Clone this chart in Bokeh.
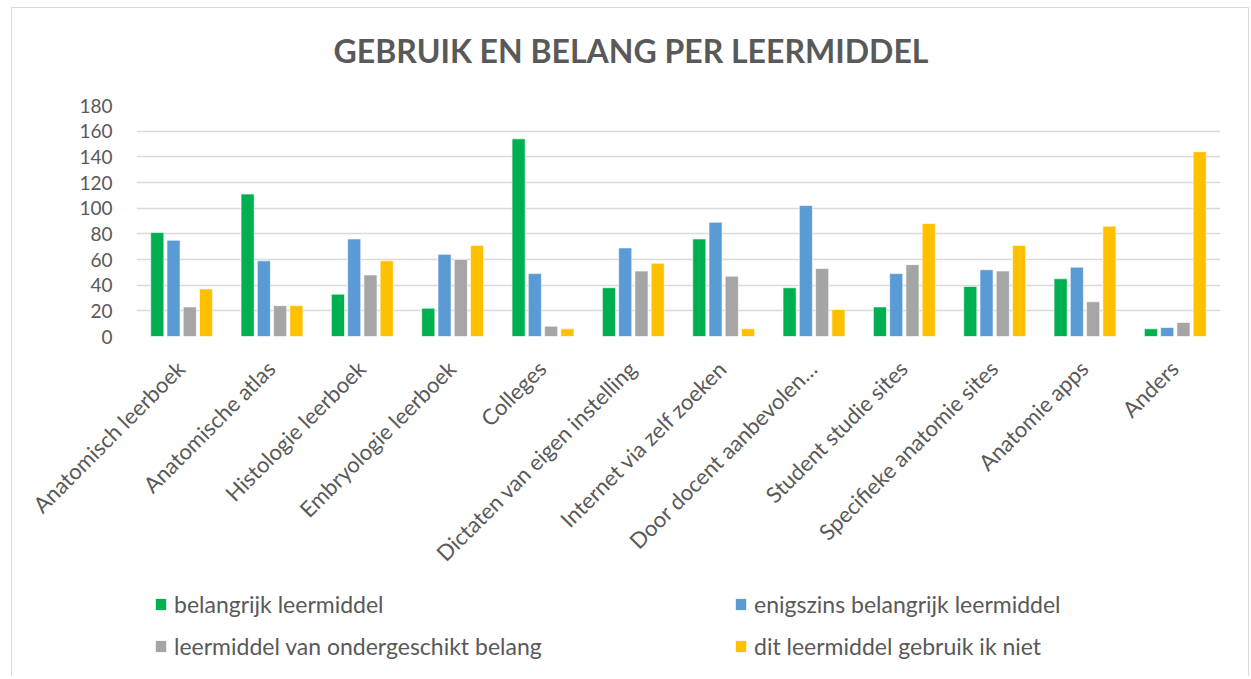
from bokeh.plotting import figure
from bokeh.models import Range1d, FixedTicker, Legend, LegendItem
from bokeh.layouts import column
from bokeh.core.properties import value
from bokeh.embed import file_html
from bokeh.resources import INLINE
import math

categories = ["Anatomisch leerboek", "Anatomische atlas", "Histologie leerboek",
              "Embryologie leerboek", "Colleges", "Dictaten van eigen instelling",
              "Internet via zelf zoeken", "Door docent aanbevolen\u2026",
              "Student studie sites", "Specifieke anatomie sites", "Anatomie apps", "Anders"]
series_names = ["belangrijk leermiddel", "enigszins belangrijk leermiddel",
                "leermiddel van ondergeschikt belang", "dit leermiddel gebruik ik niet"]
belangrijk = [81, 111, 33, 22, 154, 38, 76, 38, 23, 39, 45, 6]
enigszins = [75, 59, 76, 64, 49, 69, 89, 102, 49, 52, 54, 7]
ondergeschikt = [23, 24, 48, 60, 8, 51, 47, 53, 56, 51, 27, 11]
niet_gebruikt = [37, 24, 59, 71, 6, 57, 6, 21, 88, 71, 86, 144]
y_ticks = [0, 20, 40, 60, 80, 100, 120, 140, 160, 180]
title_text = "GEBRUIK EN BELANG PER LEERMIDDEL"

colors = ["#00B050", "#5B9BD5", "#A5A5A5", "#FFC000"]
FONT = "Lato"
TXT = "#595959"
W = 1236

# horizontal layout (page pixels): plot frame spans 136..1220, chart centre at ~630
FRAME_L, FRAME_R, CHART_MID = 136, 1220, 630.5


def bare(fig):
    fig.axis.visible = False
    fig.grid.visible = False
    fig.outline_line_color = None
    return fig


# ---- title strip ----
H0 = 85
p0 = bare(figure(width=W, height=H0, output_backend="svg", toolbar_location=None,
                 x_range=Range1d(0, 1), y_range=Range1d(0, 1),
                 min_border_left=0, min_border_right=0, min_border_top=0, min_border_bottom=0))
p0.text(x=[(CHART_MID - FRAME_L) / (FRAME_R - FRAME_L)], y=[43 / H0], text=[title_text],
        text_align="center", text_baseline="middle",
        text_font=value(FONT), text_font_style="bold", text_font_size="32px", text_color=TXT)

# ---- main chart ----
BT, BB, BL, BR = 12, 250, 124, 28
H1 = BT + 231 + BB
p = figure(width=W, height=H1, output_backend="svg", toolbar_location=None,
           x_range=Range1d(0, len(categories)), y_range=Range1d(0, 180),
           min_border_left=BL, min_border_right=BR, min_border_top=BT, min_border_bottom=BB)
p.outline_line_color = None

centers = [i + 0.5 for i in range(len(categories))]
offsets = [-0.27, -0.09, 0.09, 0.27]
all_series = [belangrijk, enigszins, ondergeschikt, niet_gebruikt]
for vals, off, col in zip(all_series, offsets, colors):
    p.vbar(x=[c + off for c in centers], top=vals, width=0.145, bottom=0,
           fill_color=col, line_color="white", line_alpha=0.6, line_width=1)

label_pos = [c - 0.011 for c in centers]
p.xaxis.ticker = FixedTicker(ticks=label_pos)
p.xaxis.major_label_overrides = {c: lab for c, lab in zip(label_pos, categories)}
p.xaxis.major_label_orientation = math.pi / 4
p.xaxis.axis_line_color = None
p.xaxis.major_tick_line_color = None
p.xaxis.minor_tick_line_color = None
p.xaxis.major_label_standoff = 22
p.xaxis.major_label_text_font = FONT
p.xaxis.major_label_text_font_size = "22px"
p.xaxis.major_label_text_color = TXT

p.yaxis.ticker = FixedTicker(ticks=y_ticks)
p.yaxis.axis_line_color = None
p.yaxis.major_tick_line_color = None
p.yaxis.minor_tick_line_color = None
p.yaxis.major_label_standoff = 18
p.yaxis.major_label_text_font = FONT
p.yaxis.major_label_text_font_size = "19px"
p.yaxis.major_label_text_color = TXT

p.xgrid.grid_line_color = None
p.ygrid.grid_line_color = "#D9D9D9"
p.ygrid.grid_line_width = 1.5
p.ygrid.level = "underlay"

# ---- legend strip ----
H2 = 668 - H0 - H1
p2 = bare(figure(width=W, height=H2, output_backend="svg", toolbar_location=None,
                 x_range=Range1d(0, 1), y_range=Range1d(0, 1),
                 min_border_left=0, min_border_right=0, min_border_top=0, min_border_bottom=0))
# zero-height bars: only their legend swatches show
swatches = [p2.vbar(x=[0.5], top=[0], bottom=0, width=0.001, fill_color=col, line_color=None)
            for col in colors]


def make_legend(idx, x):
    return Legend(items=[LegendItem(label=series_names[i], renderers=[swatches[i]]) for i in idx],
                  location=(x, 16), orientation="vertical",
                  border_line_color=None, background_fill_alpha=0,
                  padding=0, margin=0, spacing=14,
                  glyph_width=13, glyph_height=14, label_height=27,
                  label_standoff=7, label_text_font=FONT,
                  label_text_font_size="23px", label_text_color=TXT)


p2.add_layout(make_legend([0, 2], 18), "center")
p2.add_layout(make_legend([1, 3], 598), "center")

layout = column(p0, p, p2, spacing=0,
                styles={"border-top": "1px solid #D9D9D9", "border-left": "1px solid #D9D9D9",
                        "border-right": "1px solid #D9D9D9", "margin-left": "11px",
                        "margin-top": "7px"})

open("out.html", "w").write(file_html(layout, INLINE))
